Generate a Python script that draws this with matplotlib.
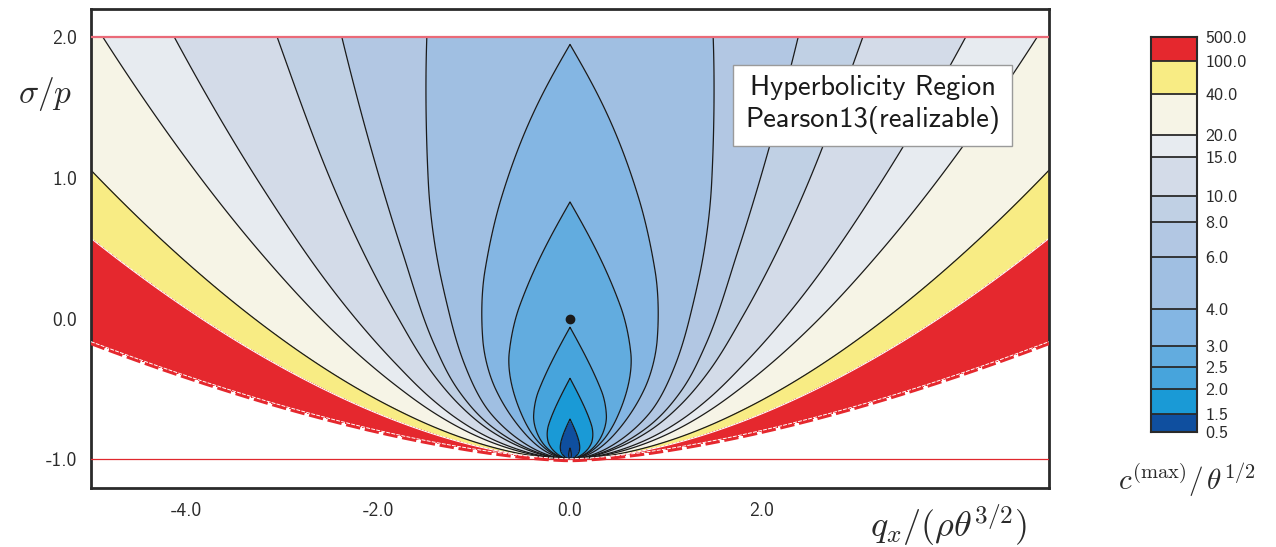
import numpy as np
import matplotlib
matplotlib.use("Agg")
import matplotlib.pyplot as plt

plt.rcParams["mathtext.fontset"] = "cm"

# ---------------- data ----------------
levels = [0.5, 1.5, 2.0, 2.5, 3.0, 4.0, 6.0, 8.0, 10.0, 15.0, 20.0, 40.0, 100.0, 500.0]
level_labels = ["0.5", "1.5", "2.0", "2.5", "3.0", "4.0", "6.0", "8.0", "10.0",
                "15.0", "20.0", "40.0", "100.0", "500.0"]
band_colors = ["#0f4f9f", "#1a9ad6", "#47a4dc", "#62acdf", "#84b6e3", "#a0bfe2",
               "#b2c7e3", "#c0d0e4", "#d3dbe8", "#e7ebf0", "#f6f4e6", "#f8ec84", "#e5282e"]
under_color = "#2358a8"

# profile along the symmetry axis: value reached at sigma+1 = psi (teardrop apexes),
# continued beyond sigma = 2 for the lateral part of the field
axis_psi = [0.01, 0.08, 0.286, 0.576, 0.939, 1.83, 2.95, 4.5, 7.1, 15.5, 27.0, 60.0, 1.0e4]
axis_value = [0.2, 0.5, 1.5, 2.0, 2.5, 3.0, 4.0, 5.0, 5.95, 6.6, 6.9, 7.0, 7.05]
# outer lateral increase vs v = |q| / (sigma+1)^0.58
outer_v = [0.0, 0.5, 0.75, 1.0, 1.247, 1.59, 1.73, 2.2, 2.59, 3.3, 3.85, 4.5, 6.0, 9.0]
outer_dz = [0.0, 0.004, 0.07, 0.42, 1.4, 3.0, 3.7, 8.2, 13.2, 33.4, 93.4, 300.0, 450.0, 460.0]
# teardrop geometry: psi = (sigma+1) + (1 + s0/(sigma+1)) * (a|q| + b|q|^3)
tear_a, tear_b, tear_s0 = 1.15, 0.62, 0.06
# realizability boundary: sigma+1 = a |q|^b
bound_a, bound_b = 0.0687, 1.55

x_ticks = [-4.0, -2.0, 0.0, 2.0]
x_ticklabels = ["-4.0", "-2.0", "0.0", "2.0"]
y_ticks = [-1.0, 0.0, 1.0, 2.0]
y_ticklabels = ["-1.0", "0.0", "1.0", "2.0"]
legend_text = "Hyperbolicity Region\nPearson13(realizable)"


def pchip(x, xk, yk):
    """monotone cubic Hermite interpolation (Fritsch-Carlson)"""
    xk = np.asarray(xk, float)
    yk = np.asarray(yk, float)
    h = np.diff(xk)
    d = np.diff(yk) / h
    m = np.zeros_like(yk)
    for i in range(1, len(xk) - 1):
        if d[i - 1] * d[i] > 0:
            w1 = 2 * h[i] + h[i - 1]
            w2 = h[i] + 2 * h[i - 1]
            m[i] = (w1 + w2) / (w1 / d[i - 1] + w2 / d[i])
    m[0] = d[0]
    m[-1] = d[-1]
    x = np.clip(x, xk[0], xk[-1])
    idx = np.clip(np.searchsorted(xk, x) - 1, 0, len(h) - 1)
    t = (x - xk[idx]) / h[idx]
    h00 = 2 * t**3 - 3 * t**2 + 1
    h10 = t**3 - 2 * t**2 + t
    h01 = -2 * t**3 + 3 * t**2
    h11 = t**3 - t**2
    return (h00 * yk[idx] + h10 * h[idx] * m[idx]
            + h01 * yk[idx + 1] + h11 * h[idx] * m[idx + 1])


# ---------------- field ----------------
q = np.linspace(-5, 5, 1201)
sig = np.linspace(-1, 2, 1001)
Q, SIG = np.meshgrid(q, sig)
S = np.maximum(SIG + 1.0, 1e-5)
AQ = np.abs(Q)
PSI = S + (1.0 + tear_s0 / S) * (tear_a * AQ + tear_b * AQ**3)
Z = pchip(np.log(PSI), np.log(axis_psi), axis_value)
Z = Z + np.expm1(pchip(AQ / S ** 0.58, outer_v, np.log1p(outer_dz)))
Z = np.minimum(Z, 499.0)
S_b = bound_a * AQ ** bound_b
Z = np.where(S >= S_b, Z, np.nan)

# ---------------- figure ----------------
fig = plt.figure(figsize=(12.76, 5.47), dpi=100)
ax = fig.add_axes([91 / 1276, 59 / 547, 958 / 1276, 479 / 547])

ax.contourf(Q, SIG, Z, levels=levels, colors=[under_color] + band_colors, extend="min")
ax.contour(Q, SIG, Z, levels=levels[:12], colors="#1a1a1a", linewidths=0.9)
ax.contour(Q, SIG, Z, levels=[levels[12]], colors="white", linewidths=0.8)

qb = np.linspace(-5, 5, 801)
sb = bound_a * np.abs(qb) ** bound_b - 1.0
ax.plot(qb, sb - 0.008, color="#e5282e", lw=2.6, dashes=(4, 1.3), zorder=4)
ax.plot(qb, sb + 0.004, color="white", lw=0.7, dashes=(4, 1.3), zorder=5)

ax.axhline(2.0, color="#ea6a78", lw=1.6, zorder=3)
ax.axhline(-1.0, color="#e0282e", lw=0.9, zorder=3)
ax.plot([0.0], [0.0], "o", color="#1a1a1a", ms=6, zorder=6)

ax.set_xlim(-5.0, 5.0)
ax.set_ylim(-1.204, 2.202)
for sp in ax.spines.values():
    sp.set_linewidth(2.0)
    sp.set_color("#2a2a2a")
ax.set_xticks(x_ticks)
ax.set_xticklabels(x_ticklabels, fontfamily="cmss10", fontsize=14, color="#2a2a2a")
ax.set_yticks(y_ticks)
ax.set_yticklabels(y_ticklabels, fontfamily="cmss10", fontsize=14, color="#2a2a2a")
ax.tick_params(length=0, pad=10)

ax.text(0.816, 0.80, legend_text, transform=ax.transAxes, ha="center", va="center",
        fontfamily="cmss10", fontsize=20.5, color="#1a1a1a", linespacing=1.3, zorder=10,
        bbox=dict(boxstyle="square,pad=0.42", fc="white", ec="#9a9a9a", lw=1.0))

ax.text(-0.048, 0.823, r"$\sigma/p$", transform=ax.transAxes, ha="center", va="center",
        fontsize=24, color="#2a2a2a")
ax.text(0.895, -0.077, r"$q_x/(\rho\theta^{3/2})$", transform=ax.transAxes, ha="center",
        va="center", fontsize=26, color="#2a2a2a")

# ---------------- colour bar ----------------
cb_pos = [0.0, 0.0456, 0.1089, 0.1646, 0.2177, 0.3114, 0.443, 0.5316, 0.5975,
          0.6962, 0.7519, 0.8557, 0.9392, 1.0]
cax = fig.add_axes([1151 / 1276, 115 / 547, 46 / 1276, 395 / 547])
for i, c in enumerate(band_colors):
    cax.axhspan(cb_pos[i], cb_pos[i + 1], color=c, lw=0)
    cax.axhline(cb_pos[i], color="#2a2a2a", lw=1.3)
cax.set_ylim(0, 1)
cax.set_xlim(0, 1)
cax.set_xticks([])
cax.yaxis.tick_right()
cax.set_yticks(cb_pos)
cax.set_yticklabels(level_labels, fontfamily="cmss10", fontsize=13, color="#2a2a2a")
cax.tick_params(length=0, pad=6)
for sp in cax.spines.values():
    sp.set_linewidth(1.5)
    sp.set_color("#2a2a2a")
fig.text(1187 / 1276, 67 / 547, r"$c^{(\max)}/\,\theta^{1/2}$", ha="center", va="center",
         fontsize=21, color="#2a2a2a")

fig.savefig("out.png", dpi=100)
